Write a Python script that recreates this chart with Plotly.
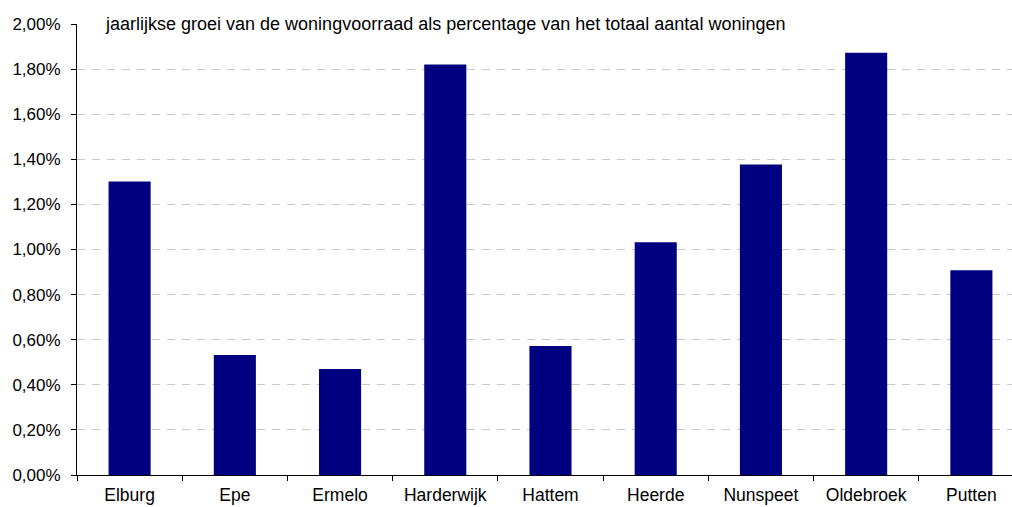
import plotly.graph_objects as go

# Jaarlijkse groei van de woningvoorraad per gemeente (fractie van totaal)
gemeenten = ["Elburg", "Epe", "Ermelo", "Harderwijk", "Hattem",
             "Heerde", "Nunspeet", "Oldebroek", "Putten"]
groei = [0.01302, 0.00532, 0.00470, 0.01820, 0.00572,
         0.01032, 0.01377, 0.01873, 0.00908]

y_ticks = [0.0, 0.002, 0.004, 0.006, 0.008, 0.010,
           0.012, 0.014, 0.016, 0.018, 0.020]
y_labels = ["0,00%", "0,20%", "0,40%", "0,60%", "0,80%", "1,00%",
            "1,20%", "1,40%", "1,60%", "1,80%", "2,00%"]

titel = "jaarlijkse groei van de woningvoorraad als percentage van het totaal aantal woningen"

FONT = "Liberation Sans, Arial, sans-serif"

fig = go.Figure(
    go.Bar(
        x=gemeenten,
        y=groei,
        marker=dict(color="#000080", line=dict(width=0)),
        width=0.4,
        hoverinfo="skip",
    )
)

fig.update_layout(
    width=1012,
    height=507,
    margin=dict(l=77, r=0, t=24, b=32, autoexpand=False),
    paper_bgcolor="white",
    plot_bgcolor="white",
    showlegend=False,
    font=dict(family=FONT, size=17, color="black"),
    annotations=[
        dict(
            text=titel,
            xref="paper", yref="paper",
            x=0.028, y=1.0,
            xanchor="left", yanchor="middle",
            showarrow=False,
            font=dict(family=FONT, size=18, color="black"),
        )
    ],
)

fig.update_xaxes(
    type="category",
    range=[-0.5, 8.386],
    automargin=False,
    showline=True, linecolor="black", linewidth=1,
    ticks="outside", tickson="boundaries", ticklen=5,
    tickcolor="black", tickwidth=1,
    ticklabelstandoff=4,
    showgrid=False, zeroline=False,
    tickfont=dict(family=FONT, size=17.5, color="black"),
)

fig.update_yaxes(
    range=[0, 0.02],
    automargin=False,
    tickvals=y_ticks, ticktext=y_labels,
    showline=True, linecolor="black", linewidth=1,
    ticks="outside", ticklen=5, tickcolor="black", tickwidth=1,
    ticklabelstandoff=7,
    showgrid=True, gridcolor="#c8c8c8", gridwidth=1, griddash="8px,7px",
    zeroline=False,
    tickfont=dict(family=FONT, size=17, color="black"),
)

fig.write_html("out.html")
